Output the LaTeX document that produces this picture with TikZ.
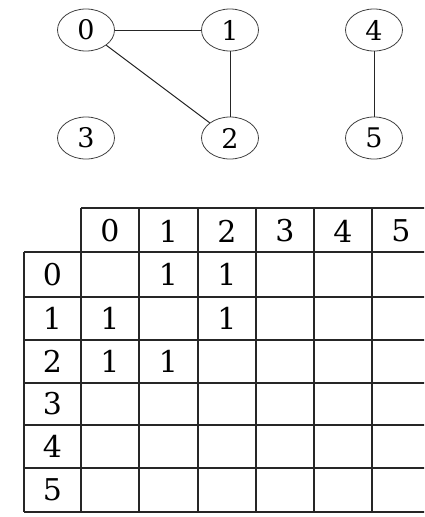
\documentclass[tikz,border=0pt]{standalone}
\usepackage{fontspec}
\setmainfont{DejaVu Serif}
\usetikzlibrary{shapes.geometric}
\begin{document}
\begin{tikzpicture}[x=1pt,y=-1pt,
  vert/.style={ellipse,draw=black!75,line width=0.8pt,minimum width=57pt,minimum height=42pt,inner sep=0pt,font=\fontsize{27}{30}\selectfont},
  edge/.style={draw=black!85,line width=1pt},
  grid/.style={draw=black!85,line width=1.6pt},
  cell/.style={inner sep=0pt,font=\fontsize{30}{34}\selectfont}]
\useasboundingbox (0,0) rectangle (424,517);
\clip (0,0) rectangle (424,517);
% graph
\node[vert] (v0) at (86,30) {0};
\node[vert] (v1) at (230,30) {1};
\node[vert] (v4) at (374,30) {4};
\node[vert] (v3) at (86,138) {3};
\node[vert] (v2) at (230,138) {2};
\node[vert] (v5) at (374,138) {5};
\draw[edge] (v0) -- (v1);
\draw[edge] (v0) -- (v2);
\draw[edge] (v1) -- (v2);
\draw[edge] (v4) -- (v5);
% table grid
\draw[grid] (81,208) -- (430,208);
\foreach \y in {252,297,340,383,425,468,512} \draw[grid] (24,\y) -- (430,\y);
\draw[grid] (24,252) -- (24,512);
\foreach \x in {81,139,198,256,314,372} \draw[grid] (\x,208) -- (\x,512);
% header labels
\foreach \i/\x in {0/110,1/168.5,2/227,3/285,4/343,5/401}
  \node[cell] (h\i) at (\x,231) {\i};
\foreach \i/\y in {0/274.5,1/318.5,2/361.5,3/404,4/446.5,5/490}
  \node[cell] (r\i) at (52.5,\y) {\i};
% entries
\node[cell] (c01) at (168.5,274.5) {1};
\node[cell] (c02) at (227,274.5) {1};
\node[cell] (c10) at (110,318.5) {1};
\node[cell] (c12) at (227,318.5) {1};
\node[cell] (c20) at (110,361.5) {1};
\node[cell] (c21) at (168.5,361.5) {1};
\end{tikzpicture}
\end{document}
